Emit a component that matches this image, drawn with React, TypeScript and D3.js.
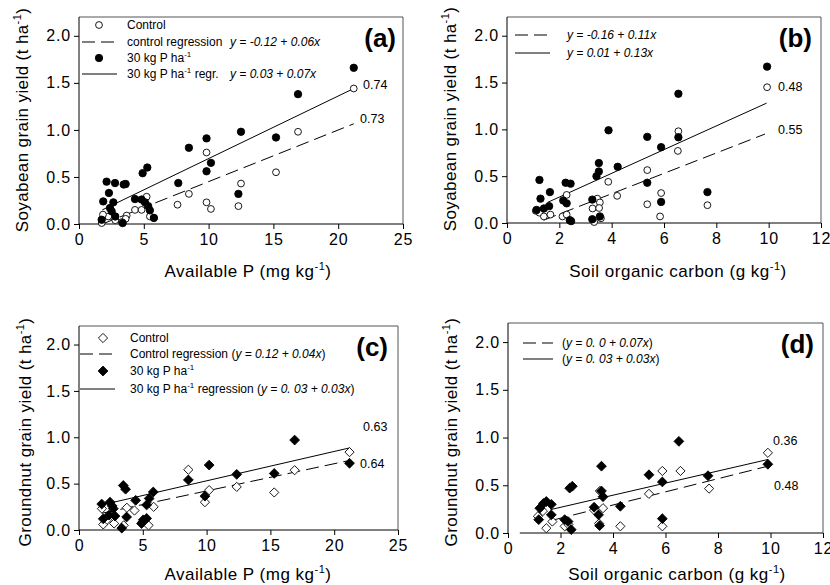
import { useEffect, useRef } from 'react'
import * as d3 from 'd3'

// soyabean yield vs available P (a)
const soyPControl = [
  [21.2, 1.44], [16.9, 0.98], [9.84, 0.76], [15.2, 0.55], [12.5, 0.43], [8.48, 0.32], [7.6, 0.205],
  [9.84, 0.23], [10.18, 0.16], [12.3, 0.19], [5.22, 0.29], [4.32, 0.15], [4.83, 0.15], [3.68, 0.09],
  [3.6, 0.055], [5.47, 0.08], [5.78, 0.065], [2.65, 0.075], [2.26, 0.08], [1.75, 0.01], [1.85, 0.1],
  [2.8, 0.04], [3.3, 0.02],
]
const soyPTreated = [
  [21.2, 1.66], [16.9, 1.38], [12.5, 0.98], [15.2, 0.92], [9.84, 0.91], [8.48, 0.81], [10.18, 0.65],
  [9.84, 0.56], [7.66, 0.435], [12.3, 0.32], [5.27, 0.6], [4.91, 0.54], [3.6, 0.425], [3.45, 0.42],
  [2.78, 0.435], [2.13, 0.45], [2.31, 0.33], [1.87, 0.24], [2.65, 0.23], [2.39, 0.17], [2.52, 0.135],
  [4.32, 0.265], [4.83, 0.26], [5.09, 0.23], [5.34, 0.19], [5.47, 0.145], [5.78, 0.065], [1.75, 0.045],
  [3.37, 0.01], [2.8, 0.08],
]
// soyabean yield vs soil organic carbon (b)
const soyCControl = [
  [9.94, 1.45], [6.55, 0.98], [6.53, 0.77], [5.36, 0.565], [5.89, 0.32], [5.36, 0.2], [5.85, 0.07],
  [7.66, 0.19], [1.24, 0.11], [1.41, 0.07], [1.66, 0.09], [2.28, 0.3], [2.12, 0.07], [2.28, 0.09],
  [3.27, 0.155], [3.45, 0.26], [3.55, 0.22], [3.52, 0.16], [3.33, 0.01], [3.59, 0.05], [3.87, 0.44],
  [4.21, 0.29], [1.1, 0.13],
]
const soyCTreated = [
  [9.94, 1.67], [6.55, 1.38], [3.88, 0.99], [5.36, 0.92], [6.55, 0.915], [5.89, 0.81], [3.51, 0.64],
  [4.23, 0.6], [3.51, 0.55], [3.42, 0.5], [5.36, 0.43], [7.66, 0.33], [5.89, 0.225], [2.24, 0.43],
  [2.43, 0.42], [1.24, 0.46], [1.28, 0.26], [1.64, 0.33], [1.13, 0.14], [1.41, 0.155], [1.61, 0.18],
  [2.15, 0.24], [2.28, 0.21], [2.4, 0.03], [3.26, 0.25], [3.26, 0.04], [3.55, 0.07], [2.45, 0.02],
]
// groundnut yield vs available P (c)
const gnPControl = [
  [21.2, 0.84], [16.9, 0.645], [15.3, 0.405], [12.36, 0.465], [10.2, 0.43], [9.87, 0.3], [8.57, 0.65],
  [5.85, 0.25], [5.45, 0.05], [4.35, 0.21], [3.75, 0.24], [3.5, 0.05], [1.8, 0.23], [1.9, 0.06],
  [2.75, 0.07], [2.2, 0.11], [5.0, 0.09],
]
const gnPTreated = [
  [21.2, 0.72], [16.9, 0.97], [15.3, 0.61], [12.36, 0.6], [10.2, 0.7], [9.87, 0.365], [8.57, 0.54],
  [5.82, 0.41], [5.5, 0.34], [5.3, 0.27], [4.44, 0.32], [3.47, 0.48], [3.65, 0.44], [3.73, 0.14],
  [3.35, 0.02], [1.78, 0.28], [2.43, 0.3], [2.69, 0.23], [1.9, 0.12], [2.35, 0.16], [2.82, 0.15],
  [5.04, 0.11], [5.3, 0.125], [4.9, 0.07], [2.6, 0.26],
]
// groundnut yield vs soil organic carbon (d)
const gnCControl = [
  [9.9, 0.84], [5.88, 0.65], [6.57, 0.65], [5.37, 0.41], [7.66, 0.465], [3.5, 0.44], [3.62, 0.26],
  [5.88, 0.07], [4.28, 0.07], [1.46, 0.05], [2.16, 0.07], [3.28, 0.24], [3.47, 0.1], [1.69, 0.12],
  [1.14, 0.175], [1.33, 0.23], [2.3, 0.09],
]
const gnCTreated = [
  [6.51, 0.96], [9.9, 0.72], [3.56, 0.7], [5.37, 0.61], [5.88, 0.535], [7.62, 0.6], [2.35, 0.47],
  [2.45, 0.49], [4.28, 0.28], [3.56, 0.44], [3.62, 0.38], [3.28, 0.27], [3.45, 0.19], [3.49, 0.077],
  [5.88, 0.15], [2.41, 0.035], [2.16, 0.14], [2.29, 0.12], [1.17, 0.14], [1.21, 0.26], [1.46, 0.33],
  [1.65, 0.3], [1.65, 0.19], [1.35, 0.31],
]

// regression lines as drawn [start, end]
const soyPFits = { control: [[1.8, 0.0], [21.2, 1.065]], treated: [[1.8, 0.15], [21.2, 1.44]] }
const soyCFits = { control: [[1.4, 0.03], [9.86, 0.95]], treated: [[1.55, 0.22], [9.92, 1.28]] }
const gnPFits = { control: [[1.78, 0.18], [21.2, 0.75]], treated: [[1.78, 0.27], [21.2, 0.885]] }
const gnCFits = { control: [[1.78, 0.14], [9.9, 0.7]], treated: [[1.62, 0.245], [9.9, 0.77]] }

const yTicks = [0, 0.5, 1.0, 1.5, 2.0]
const pTicks = [0, 5, 10, 15, 20, 25]
const cTicks = [0, 2, 4, 6, 8, 10, 12]

const FONT = 'Liberation Sans, Arial, Helvetica, sans-serif'

export default function App() {
  const ref = useRef(null)

  useEffect(() => {
    const svg = d3.select(ref.current)
    svg.selectAll('*').remove()

    const panels = [
      {
        id: '(a)', box: [79, 403, 17, 224], xMax: 25, xTicks: pTicks, ctrl: soyPControl, trt: soyPTreated,
        fits: soyPFits, shape: 'circle', crop: 'Soyabean', xTitle: 'Available P (mg kg', xTitleX: 248, xTitleY: 277,
        yTitleX: 28, yTitleY: 120, idPos: [396, 47],
        r2: [['0.74', 363, 89], ['0.73', 360, 123]],
      },
      {
        id: '(b)', box: [507, 821, 17, 223], xMax: 12, xTicks: cTicks, ctrl: soyCControl, trt: soyCTreated,
        fits: soyCFits, shape: 'circle', crop: 'Soyabean', xTitle: 'Soil organic carbon (g kg', xTitleX: 678, xTitleY: 277,
        yTitleX: 456, yTitleY: 119, idPos: [812, 47],
        r2: [['0.48', 778, 91], ['0.55', 778, 134]],
      },
      {
        id: '(c)', box: [79, 398, 326, 530], xMax: 25, xTicks: pTicks, ctrl: gnPControl, trt: gnPTreated,
        fits: gnPFits, shape: 'diamond', crop: 'Groundnut', xTitle: 'Available P (mg kg', xTitleX: 248, xTitleY: 580,
        yTitleX: 31, yTitleY: 432, idPos: [388, 356],
        r2: [['0.63', 363, 431], ['0.64', 360, 468]],
      },
      {
        id: '(d)', box: [508, 823, 323, 533], xMax: 12, xTicks: cTicks, ctrl: gnCControl, trt: gnCTreated,
        fits: gnCFits, shape: 'diamond', crop: 'Groundnut', xTitle: 'Soil organic carbon (g kg', xTitleX: 677, xTitleY: 580,
        yTitleX: 457, yTitleY: 432, idPos: [814, 353], xAxisFrom: 0.45,
        r2: [['0.36', 773, 445], ['0.48', 774, 490]],
      },
    ]

    const marker = (g, shape, filled, cx, cy) => {
      if (shape === 'circle') {
        g.append('circle').attr('cx', cx).attr('cy', cy).attr('r', filled ? 3.7 : 3.4)
          .attr('fill', filled ? '#000' : '#fff').attr('stroke', '#000').attr('stroke-width', 0.9)
      } else {
        const s = filled ? 4.9 : 4.6
        g.append('path').attr('d', `M${cx},${cy - s}L${cx + s},${cy}L${cx},${cy + s}L${cx - s},${cy}Z`)
          .attr('fill', filled ? '#000' : '#fff').attr('stroke', '#000').attr('stroke-width', 0.9)
      }
    }

    panels.forEach(p => {
      const [left, right, top, bottom] = p.box
      const x = d3.scaleLinear().domain([0, p.xMax]).range([left, right])
      const y = d3.scaleLinear().domain([0, 2.2]).range([bottom, top])
      const g = svg.append('g')

      // frame (top / right)
      g.append('path').attr('d', `M${left},${top}H${right}V${bottom}`)
        .attr('fill', 'none').attr('stroke', '#555').attr('stroke-width', 1)

      const yAxis = g.append('g').attr('transform', `translate(${left},0)`)
        .call(d3.axisLeft(y).tickValues(yTicks).tickFormat(d3.format('.1f')).tickSize(5).tickPadding(3))
      const xAxis = g.append('g').attr('transform', `translate(0,${bottom})`)
        .call(d3.axisBottom(x).tickValues(p.xTicks).tickFormat(d3.format('d')).tickSize(5).tickPadding(5))
      ;[yAxis, xAxis].forEach(a => {
        a.selectAll('text').attr('font-family', FONT).attr('font-size', 16).attr('letter-spacing', 0.8).attr('fill', '#000')
        a.selectAll('line').attr('stroke', '#000')
        a.select('.domain').attr('stroke', '#000')
      })
      yAxis.select('.domain').attr('d', `M0,${top}V${bottom}`)
      xAxis.select('.domain').attr('d', `M${x(p.xAxisFrom || 0)},0H${right}`)

      // regression lines
      const line = d3.line().x(d => x(d[0])).y(d => y(d[1]))
      g.append('path').attr('d', line(p.fits.control)).attr('fill', 'none')
        .attr('stroke', '#000').attr('stroke-width', 1).attr('stroke-dasharray', '13,6')
      g.append('path').attr('d', line(p.fits.treated)).attr('fill', 'none')
        .attr('stroke', '#000').attr('stroke-width', 1)

      // points
      const pts = g.append('g')
      p.ctrl.forEach(d => marker(pts, p.shape, false, x(d[0]), y(d[1])))
      p.trt.forEach(d => marker(pts, p.shape, true, x(d[0]), y(d[1])))

      // r2 labels
      p.r2.forEach(([t, tx, ty]) => {
        g.append('text').attr('x', tx).attr('y', ty).attr('font-family', FONT).attr('font-size', 12.5).text(t)
      })

      // panel id
      g.append('text').attr('x', p.idPos[0]).attr('y', p.idPos[1]).attr('text-anchor', 'end')
        .attr('font-family', FONT).attr('font-weight', 'bold').attr('font-size', 26).text(p.id)

      // x title
      const xt = g.append('text').attr('x', p.xTitleX).attr('y', p.xTitleY).attr('text-anchor', 'middle')
        .attr('font-family', FONT).attr('font-size', 17).attr('letter-spacing', 0.5)
      xt.append('tspan').text(p.xTitle)
      xt.append('tspan').attr('font-size', 11).attr('dy', -7).text('-1')
      xt.append('tspan').attr('dy', 7).text(')')

      // y title
      const yt = g.append('text').attr('transform', `translate(${p.yTitleX},${p.yTitleY}) rotate(-90)`)
        .attr('text-anchor', 'middle').attr('font-family', FONT).attr('font-size', 17).attr('letter-spacing', 0.4)
      yt.append('tspan').text(`${p.crop} grain yield (t ha`)
      yt.append('tspan').attr('font-size', 11).attr('dy', -7).text('-1')
      yt.append('tspan').attr('dy', 7).text(')')
    })

    // legends
    const legText = (x0, y0, parts) => {
      const t = svg.append('text').attr('x', x0).attr('y', y0 + 4.3).attr('font-family', FONT).attr('font-size', 12)
      parts.forEach(part => {
        const s = t.append('tspan').text(part.t)
        if (part.i) s.attr('font-style', 'italic')
        if (part.sup) s.attr('font-size', 8).attr('dy', -5)
        if (part.down) s.attr('dy', 5)
        if (part.x) s.attr('x', part.x)
      })
    }
    const legLine = (x1, x2, y0, dashed) => {
      svg.append('line').attr('x1', x1).attr('x2', x2).attr('y1', y0).attr('y2', y0)
        .attr('stroke', '#000').attr('stroke-width', 1).attr('stroke-dasharray', dashed ? '13,6' : null)
    }
    const lg = svg.append('g')

    // (a)
    marker(lg, 'circle', false, 99, 25)
    legText(127, 25, [{ t: 'Control' }])
    legLine(82, 117, 42, true)
    legText(127, 42, [{ t: 'control regression' }, { t: 'y = -0.12 + 0.06x', i: true, x: 230 }])
    marker(lg, 'circle', true, 99, 58)
    legText(127, 58, [{ t: '30 kg P ha' }, { t: '-1', sup: true }])
    legLine(82, 117, 74, false)
    legText(127, 74, [{ t: '30 kg P ha' }, { t: '-1', sup: true }, { t: ' regr.', down: true }, { t: 'y = 0.03 + 0.07x', i: true, x: 230 }])

    // (b)
    legLine(515, 550, 35, true)
    legText(567, 35, [{ t: 'y = -0.16 + 0.11x', i: true }])
    legLine(515, 550, 53, false)
    legText(567, 53, [{ t: 'y = 0.01 + 0.13x', i: true }])

    // (c)
    marker(lg, 'diamond', false, 103, 338)
    legText(130, 338, [{ t: 'Control' }])
    legLine(80, 115, 354, true)
    legText(130, 354, [{ t: 'Control regression (' }, { t: 'y = 0.12 + 0.04x', i: true }, { t: ')' }])
    marker(lg, 'diamond', true, 103, 371)
    legText(130, 371, [{ t: '30 kg P ha' }, { t: '-1', sup: true }])
    legLine(80, 115, 389, false)
    legText(130, 389, [{ t: '30 kg P ha' }, { t: '-1', sup: true }, { t: ' regression (', down: true }, { t: 'y = 0. 03 + 0.03x', i: true }, { t: ')' }])

    // (d)
    legLine(523, 553, 343, true)
    legText(562, 343, [{ t: '(' }, { t: 'y = 0. 0 + 0.07x', i: true }, { t: ')' }])
    legLine(523, 553, 359, false)
    legText(562, 359, [{ t: '(' }, { t: 'y = 0. 03 + 0.03x', i: true }, { t: ')' }])
  }, [])

  return (
    <svg ref={ref} width={830} height={585}
      style={{ position: 'absolute', left: 0, top: 0, background: '#fff' }} />
  )
}
